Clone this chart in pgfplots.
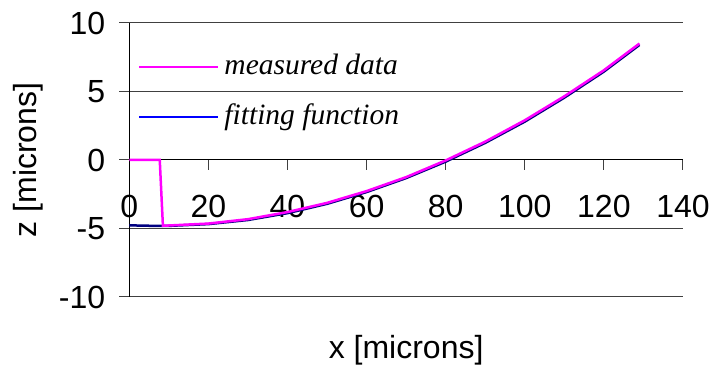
\documentclass[border=0pt]{standalone}
\usepackage{fontspec}
\setmainfont{Liberation Sans}
\newfontfamily\timesfont{Liberation Serif}
\usepackage{pgfplots}
\pgfplotsset{compat=1.18}
\definecolor{navyc}{HTML}{000080}
\definecolor{magc}{HTML}{FF00FF}
\definecolor{bluec}{HTML}{0000FF}
\definecolor{gridc}{HTML}{404040}
\begin{document}
\begin{tikzpicture}
\begin{axis}[
  at={(0pt,0pt)}, anchor=south west,
  scale only axis, width=553.7pt, height=274pt,
  xmin=0, xmax=140, ymin=-10, ymax=10,
  axis x line=middle, axis y line=left,
  axis line style={-, black, line width=1pt},
  hide obscured x ticks=false, hide obscured y ticks=false,
  xtick={0,20,...,140}, ytick={-10,-5,...,10},
  ymajorgrids, grid style={draw=gridc, line width=1pt},
  tick style={gridc, line width=1pt},
  major tick length=10pt,
  tick align=outside,
  ticklabel style={font=\fontsize{32}{38}\selectfont},
  /pgf/number format/assume math mode=true,
  yticklabel style={anchor=east, inner sep=0pt, xshift=-14pt},
  xticklabel style={anchor=center, inner sep=0pt, yshift=-36pt},
  xlabel={x [microns]}, ylabel={z [microns]},
  every axis x label/.style={at={(axis description cs:0.5,-0.193)}, anchor=center, font=\fontsize{32}{38}\selectfont},
  every axis y label/.style={at={(axis description cs:-0.1824,0.5)}, rotate=90, anchor=center, font=\fontsize{32}{38}\selectfont},
  legend style={draw=none, fill=none, inner sep=0pt, outer sep=0pt,
    at={(axis description cs:0.0157,0.8923)}, anchor=north west,
    font=\timesfont\itshape\fontsize{29.5}{34}\selectfont,
    nodes={text height=22pt, text depth=7pt, inner ysep=0pt, inner xsep=5pt},
    /tikz/row sep=21pt},
  legend cell align=left,
  legend image code/.code={\draw[#1] (0pt,0pt) -- (79pt,0pt);},
]
\addplot[navyc, line width=2.5pt, forget plot] coordinates {
(0,-4.77) (5,-4.80) (10,-4.81) (20,-4.68) (30,-4.38) (40,-3.88) (50,-3.20)
(60,-2.34) (70,-1.32) (80,-0.12) (90,1.25) (100,2.80) (110,4.55) (120,6.45) (129,8.40)
};
\addplot[magc, line width=2.5pt] coordinates {
(0,0) (7.7,0) (8.5,-4.80) (10,-4.78) (20,-4.64) (30,-4.32) (40,-3.80) (50,-3.13)
(60,-2.27) (70,-1.25) (80,-0.03) (90,1.34) (100,2.90) (110,4.65) (120,6.55) (129,8.50)
};
\addlegendentry{measured data}
\addlegendimage{bluec, line width=2.5pt}
\addlegendentry{fitting function}
\end{axis}
\path[use as bounding box] (-129.3pt,-70pt) rectangle (583.7pt,297pt);
\end{tikzpicture}
\end{document}
